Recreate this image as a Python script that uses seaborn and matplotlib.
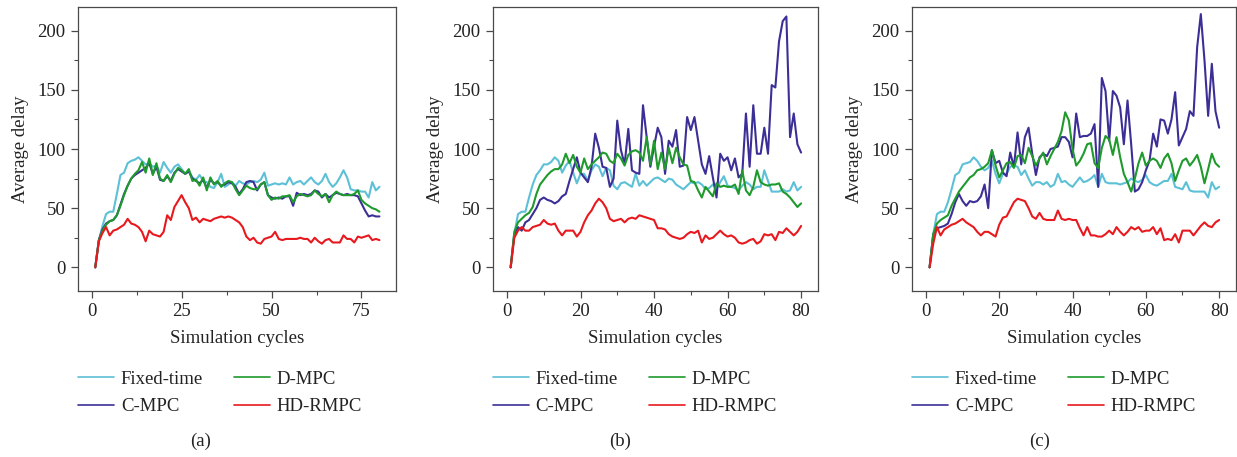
import matplotlib
matplotlib.use("Agg")
import matplotlib.pyplot as plt
from matplotlib.ticker import MultipleLocator
import pandas as pd
import seaborn as sns

# ---------------------------------------------------------------- data
cycles = list(range(1, 81))
methods = ["Fixed-time", "D-MPC", "C-MPC", "HD-RMPC"]
panel_tags = ["(a)", "(b)", "(c)"]

fixed_a = [0, 23, 35, 45, 47, 47, 62, 78, 80, 88,
           90, 91, 93, 90, 87, 88, 85, 86, 80, 89,
           84, 80, 85, 87, 83, 79, 82, 76, 74, 78,
           73, 72, 68, 67, 72, 79, 68, 70, 72, 69,
           73, 71, 70, 72, 73, 72, 74, 80, 69, 70,
           71, 70, 71, 70, 76, 70, 72, 73, 70, 73,
           76, 72, 70, 73, 79, 72, 68, 71, 76, 82,
           76, 66, 65, 65, 64, 64, 59, 72, 65, 68]
dmpc_a = [0, 23, 31, 36, 39, 40, 44, 52, 61, 69,
          75, 79, 82, 89, 80, 92, 78, 88, 75, 73,
          78, 72, 79, 84, 82, 79, 83, 73, 74, 69,
          76, 65, 76, 70, 73, 68, 71, 73, 72, 66,
          61, 65, 69, 67, 66, 66, 70, 72, 61, 57,
          59, 58, 60, 60, 61, 55, 60, 62, 61, 60,
          61, 65, 62, 60, 62, 55, 61, 64, 62, 61,
          61, 61, 62, 65, 57, 54, 52, 50, 49, 47]
cmpc_a = [0, 23, 32, 37, 39, 40, 44, 53, 62, 69,
          75, 78, 80, 82, 84, 88, 79, 85, 74, 73,
          77, 73, 80, 83, 81, 79, 81, 75, 73, 71,
          74, 67, 74, 71, 72, 69, 70, 72, 71, 68,
          62, 66, 72, 73, 72, 65, 70, 72, 61, 59,
          58, 59, 58, 60, 60, 52, 63, 61, 62, 61,
          62, 65, 64, 59, 62, 59, 61, 63, 62, 61,
          62, 61, 61, 60, 54, 48, 43, 44, 43, 43]
hdrmpc_a = [0, 22, 29, 34, 27, 31, 32, 34, 36, 41,
            37, 36, 34, 30, 22, 31, 28, 27, 26, 30,
            44, 40, 51, 56, 61, 55, 50, 40, 42, 38,
            41, 40, 39, 41, 42, 43, 42, 43, 42, 40,
            38, 34, 26, 23, 25, 21, 20, 24, 25, 26,
            30, 24, 23, 24, 24, 24, 24, 25, 24, 24,
            21, 25, 22, 20, 23, 24, 21, 21, 21, 27,
            24, 24, 21, 26, 25, 26, 27, 23, 24, 23]

fixed_b = [0, 28, 45, 47, 47, 59, 70, 78, 82, 87,
           87, 89, 93, 90, 80, 86, 90, 80, 71, 79,
           79, 73, 82, 87, 85, 77, 84, 82, 69, 66,
           71, 72, 70, 68, 79, 69, 73, 69, 72, 75,
           76, 74, 72, 75, 74, 70, 68, 66, 69, 72,
           71, 72, 70, 66, 67, 70, 66, 72, 77, 69,
           68, 67, 65, 69, 72, 70, 66, 68, 68, 82,
           73, 64, 64, 64, 66, 64, 65, 72, 65, 68]
dmpc_b = [0, 30, 38, 41, 44, 46, 51, 62, 70, 74,
          78, 81, 83, 83, 87, 96, 88, 95, 85, 80,
          92, 83, 87, 90, 93, 97, 96, 90, 88, 96,
          92, 86, 95, 98, 99, 97, 90, 110, 87, 107,
          83, 97, 83, 101, 88, 101, 93, 87, 86, 73,
          72, 65, 59, 68, 64, 60, 71, 68, 69, 68,
          68, 70, 62, 82, 65, 61, 68, 82, 72, 70,
          69, 70, 70, 71, 64, 62, 59, 55, 51, 54]
cmpc_b = [0, 28, 34, 31, 38, 40, 45, 50, 57, 59,
          57, 56, 54, 56, 60, 62, 73, 83, 93, 80,
          76, 72, 85, 113, 101, 85, 84, 68, 75, 124,
          99, 87, 117, 82, 80, 79, 137, 110, 85, 102,
          118, 110, 79, 107, 102, 116, 85, 86, 127, 116,
          127, 107, 87, 79, 94, 76, 59, 96, 90, 93,
          82, 92, 76, 79, 130, 85, 137, 96, 96, 118,
          96, 154, 152, 191, 208, 212, 110, 130, 104, 97]
hdrmpc_b = [0, 25, 31, 34, 31, 31, 34, 35, 36, 40,
            37, 36, 37, 31, 27, 31, 31, 31, 26, 30,
            38, 44, 48, 54, 58, 55, 50, 41, 39, 40,
            41, 38, 41, 42, 41, 44, 43, 42, 41, 40,
            33, 33, 32, 28, 26, 25, 24, 25, 28, 30,
            29, 31, 21, 27, 24, 25, 28, 31, 28, 26,
            27, 25, 21, 20, 21, 23, 24, 20, 22, 28,
            27, 28, 23, 30, 29, 33, 30, 27, 30, 35]

fixed_c = [0, 28, 45, 47, 47, 55, 66, 78, 80, 87,
           88, 89, 93, 90, 85, 82, 84, 90, 79, 71,
           79, 79, 85, 86, 85, 78, 82, 75, 69, 72,
           72, 70, 72, 68, 70, 79, 72, 73, 70, 68,
           72, 76, 72, 73, 75, 78, 68, 79, 72, 71,
           71, 71, 70, 71, 72, 75, 73, 72, 74, 78,
           72, 70, 69, 71, 73, 73, 79, 68, 67, 66,
           72, 65, 64, 64, 64, 64, 59, 72, 66, 68]
dmpc_c = [0, 28, 37, 40, 42, 44, 52, 58, 64, 68,
          72, 76, 78, 82, 83, 85, 88, 99, 86, 76,
          82, 88, 89, 84, 94, 95, 88, 101, 94, 86,
          92, 97, 87, 94, 100, 106, 115, 131, 124, 100,
          86, 90, 96, 104, 105, 88, 84, 101, 111, 108,
          95, 110, 93, 79, 72, 64, 75, 88, 97, 86,
          90, 92, 90, 84, 92, 96, 88, 73, 82, 90,
          92, 86, 90, 95, 85, 71, 83, 96, 88, 85]
cmpc_c = [0, 28, 33, 34, 35, 37, 45, 55, 62, 56,
          52, 56, 55, 56, 60, 70, 50, 99, 88, 90,
          80, 77, 97, 85, 114, 87, 110, 118, 96, 78,
          93, 96, 94, 100, 101, 102, 110, 110, 106, 93,
          130, 110, 111, 111, 113, 121, 68, 160, 149, 107,
          149, 145, 135, 104, 141, 104, 64, 66, 72, 82,
          90, 113, 102, 125, 124, 113, 125, 148, 103, 110,
          117, 132, 128, 186, 214, 175, 128, 172, 132, 118]
hdrmpc_c = [0, 20, 34, 27, 32, 34, 36, 37, 39, 41,
            38, 36, 34, 30, 27, 30, 30, 28, 26, 36,
            42, 43, 49, 55, 58, 57, 56, 50, 43, 41,
            46, 41, 40, 40, 40, 48, 41, 40, 41, 40,
            40, 33, 27, 34, 27, 27, 26, 26, 28, 31,
            28, 34, 30, 27, 30, 34, 32, 34, 30, 31,
            31, 34, 28, 33, 23, 24, 23, 28, 21, 31,
            31, 31, 27, 31, 35, 38, 35, 34, 38, 40]

panels = [
    {"Fixed-time": fixed_a, "D-MPC": dmpc_a, "C-MPC": cmpc_a, "HD-RMPC": hdrmpc_a},
    {"Fixed-time": fixed_b, "D-MPC": dmpc_b, "C-MPC": cmpc_b, "HD-RMPC": hdrmpc_b},
    {"Fixed-time": fixed_c, "D-MPC": dmpc_c, "C-MPC": cmpc_c, "HD-RMPC": hdrmpc_c},
]

# ---------------------------------------------------------------- style
sns.set_theme(style="ticks")
plt.rcParams["font.family"] = ["Liberation Serif", "DejaVu Serif"]
plt.rcParams["axes.edgecolor"] = "#4a4a4a"
plt.rcParams["axes.linewidth"] = 0.9
plt.rcParams["xtick.color"] = "#4a4a4a"
plt.rcParams["ytick.color"] = "#4a4a4a"
plt.rcParams["xtick.labelcolor"] = "#222222"
plt.rcParams["ytick.labelcolor"] = "#222222"

palette = {"Fixed-time": "#5cc0d6", "D-MPC": "#1f9a2c",
           "C-MPC": "#3b2f97", "HD-RMPC": "#e8191e"}
draw_order = ["Fixed-time", "C-MPC", "D-MPC", "HD-RMPC"]
legend_order = ["Fixed-time", "C-MPC", "D-MPC", "HD-RMPC"]  # column-major fill -> 2x2 grid

W, H = 1237, 457
fig = plt.figure(figsize=(W / 100, H / 100), dpi=100)

# axes boxes in pixels: (left, right, top, bottom)
boxes = [(78, 396, 7, 291), (493, 818, 7, 291), (912, 1236, 7, 291)]
major_x = [25, 20, 20]
tag_x = [201, 620, 1040]
FS = 13.5

for i, (data, box) in enumerate(zip(panels, boxes)):
    l, r, t, b = box
    ax = fig.add_axes([l / W, 1 - b / H, (r - l) / W, (b - t) / H])
    df = pd.DataFrame({"cycle": cycles * 4,
                       "delay": sum((data[m] for m in draw_order), []),
                       "method": sum(([m] * len(cycles) for m in draw_order), [])})
    sns.lineplot(data=df, x="cycle", y="delay", hue="method",
                 hue_order=draw_order, palette=palette, linewidth=1.5,
                 legend=False, ax=ax)

    ax.set_xlim(-3.8, 84.6)
    ax.set_ylim(-20, 220)
    ax.xaxis.set_major_locator(MultipleLocator(major_x[i]))
    ax.xaxis.set_minor_locator(MultipleLocator(major_x[i] / 2))
    ax.yaxis.set_major_locator(MultipleLocator(50))
    ax.yaxis.set_minor_locator(MultipleLocator(25))
    ax.tick_params(which="major", direction="out", length=5, width=0.9,
                   labelsize=FS, pad=4)
    ax.tick_params(which="minor", direction="out", length=3, width=0.8)
    for s in ax.spines.values():
        s.set_visible(True)

    ax.set_xlabel("Simulation cycles", fontsize=FS, labelpad=7, color="#222222")
    ax.set_ylabel("Average delay", fontsize=FS, labelpad=6, color="#222222")

    lines = {m: ln for m, ln in zip(draw_order, ax.get_lines())}
    leg = ax.legend([lines[m] for m in legend_order], legend_order,
                    ncol=2, loc="upper left", bbox_to_anchor=(0.0, -0.28),
                    frameon=False, fontsize=FS, handlelength=1.9,
                    handletextpad=0.38, columnspacing=1.65, labelspacing=0.55,
                    borderpad=0.0, borderaxespad=0.0)
    for h in leg.get_lines():
        h.set_linewidth(1.2)
    for txt in leg.get_texts():
        txt.set_color("#222222")

    fig.text(tag_x[i] / W, 1 - 441 / H, panel_tags[i], ha="center", va="center",
             fontsize=FS, color="#222222")

fig.savefig("out.png", dpi=100)
